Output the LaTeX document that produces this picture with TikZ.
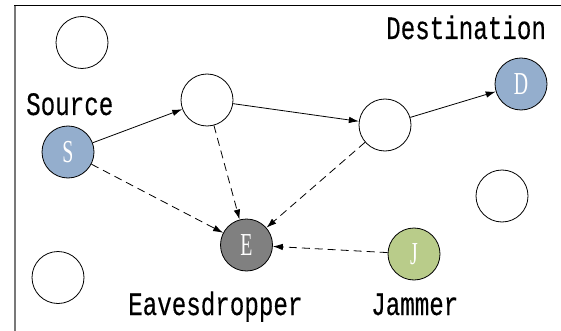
\documentclass[tikz,border=0pt]{standalone}
\usepackage{fontspec}
\newfontfamily\lblfont{Liberation Mono}[FakeBold=0.35]
\newfontfamily\ltrfont{Liberation Serif}
\usetikzlibrary{arrows.meta}
\definecolor{sblue}{RGB}{148,174,205}
\definecolor{egray}{RGB}{128,128,128}
\definecolor{jgreen}{RGB}{185,204,138}
\definecolor{framegray}{RGB}{120,120,120}
\newcommand{\lbl}[1]{\scalebox{1}[1.35]{\fontsize{24.2}{24}\lblfont #1}}
\newcommand{\ltr}[1]{\scalebox{0.62}[1]{\fontsize{32}{32}\ltrfont #1}}
\tikzset{
  nd/.style={circle,draw=black,line width=0.8pt,minimum size=52pt,inner sep=0pt,fill=white,text=white},
  lab/.style={anchor=base west,inner sep=0pt,text=black},
  link/.style={line width=0.8pt,-{Latex[length=10pt,width=6.5pt]},shorten >=0pt},
  dlink/.style={link,dash pattern=on 8pt off 5pt}
}
\begin{document}
\begin{tikzpicture}[x=1pt,y=-1pt]
\useasboundingbox (0,0) rectangle (561,331);
\fill[white] (0,0) rectangle (561,331);
\draw[framegray,line width=1.6pt] (15,331) -- (15,6);
\draw[black,line width=1pt] (14.2,6) -- (561,6);

\node[nd] (e1) at (82,42.5) {};
\node[nd] (e2) at (502,196) {};
\node[nd] (e3) at (58,277.5) {};
\node[nd,fill=sblue] (S) at (68,152) {\ltr{S}};
\node[nd] (n1) at (207,100) {};
\node[nd] (n2) at (385,125) {};
\node[nd,fill=sblue] (D) at (521,84) {\ltr{D}};
\node[nd,fill=egray] (E) at (246.5,245) {\ltr{E}};
\node[nd,fill=jgreen] (J) at (414,254) {\ltr{J}};

\node[lab] (ls) at (26,115) {\lbl{Source}};
\node[lab] (ld) at (386,39) {\lbl{Destination}};
\node[lab] (le) at (128,315) {\lbl{Eavesdropper}};
\node[lab] (lj) at (371,315) {\lbl{Jammer}};

\draw[link] (S) -- (n1);
\draw[link] (n1) -- (n2);
\draw[link] (n2) -- (D);
\draw[dlink] (S) -- (E);
\draw[dlink] (n1) -- (E);
\draw[dlink] (n2) -- (E);
\draw[dlink] (J) -- (E);
\end{tikzpicture}
\end{document}
